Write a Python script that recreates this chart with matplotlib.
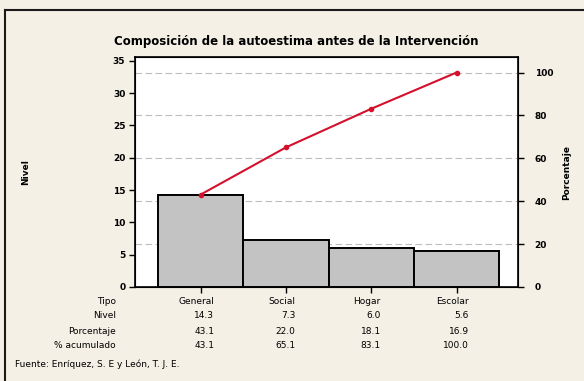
import matplotlib
matplotlib.use("Agg")
import matplotlib.pyplot as plt
from matplotlib.lines import Line2D
from matplotlib.transforms import blended_transform_factory

# Pareto data
categorias = ["General", "Social", "Hogar", "Escolar"]
nivel = [14.3, 7.3, 6.0, 5.6]
porcentaje = [43.1, 22.0, 18.1, 16.9]
acumulado = [43.1, 65.1, 83.1, 100.0]
nivel_ticks = [0, 5, 10, 15, 20, 25, 30, 35]
pct_ticks = [0, 20, 40, 60, 80, 100]
filas = ["Tipo", "Nivel", "Porcentaje", "% acumulado"]

W, H = 584, 381
bg = "#f4f0e6"
fig = plt.figure(figsize=(W / 100, H / 100), dpi=100, facecolor=bg)
plt.rcParams["font.family"] = ["DejaVu Sans"]

ax = fig.add_axes([135 / W, 1 - 287 / H, (518 - 135) / W, (287 - 57) / H])
ax.set_facecolor("white")
ax_w = 518 - 135

x = list(range(len(categorias)))
total = sum(nivel)
ymax = 35.6

# percentage gridlines, placed on the level axis so they sit behind the bars
for t in pct_ticks[1:]:
    ax.axhline(t * total / 100, color="#bdbdbd", linestyle=(0, (6, 3)),
               linewidth=0.8, zorder=1)

ax.bar(x, nivel, width=1.0, color="#c3c3c3", edgecolor="black", linewidth=1.4, zorder=3)
ax.set_xlim(-0.77, 3.72)
ax.set_ylim(0, ymax)
ax.set_yticks(nivel_ticks)
ax.set_xticks(x)
ax.set_xticklabels([])
ax.tick_params(axis="both", direction="out", length=4, width=1, labelsize=6.5, pad=3)
for lab in ax.get_yticklabels():
    lab.set_fontweight("bold")
for s in ax.spines.values():
    s.set_linewidth(1.2)

ax2 = ax.twinx()
ax2.set_ylim(0, ymax / total * 100)
ax2.set_yticks(pct_ticks)
ax2.tick_params(axis="y", direction="out", length=4, width=1, labelsize=6.5, pad=8)
for lab in ax2.get_yticklabels():
    lab.set_fontweight("bold")
ax2.plot(x, acumulado, color="#d4102c", linewidth=1.5, marker="o", markersize=3, zorder=5)

ax.set_ylabel("Nivel", fontsize=6.5, fontweight="bold")
ax.yaxis.set_label_coords(-(135 - 30) / ax_w, 0.5)
ax2.set_ylabel("Porcentaje", fontsize=6.5, fontweight="bold")
ax2.yaxis.set_label_coords((562 - 135) / ax_w, 0.5)

fig.text(296 / W, 1 - 41 / H, "Composición de la autoestima antes de la Intervención",
         ha="center", va="center", fontsize=8.5, fontweight="bold")

# Table under the chart
tr = blended_transform_factory(ax.transData, fig.transFigure)
row_y = [302, 315, 331, 346]
for lab, yy in zip(filas, row_y):
    fig.text(116 / W, 1 - yy / H, lab, ha="right", va="center", fontsize=6.5)

fig.canvas.draw()
renderer = fig.canvas.get_renderer()
inv = ax.transData.inverted()
for i, cat in enumerate(categorias):
    t = ax.text(i - 0.05, 1 - row_y[0] / H, cat, transform=tr, ha="center", va="center",
                fontsize=6.5)
    bb = t.get_window_extent(renderer=renderer)
    xr = inv.transform((bb.x1, 0))[0]
    vals = [f"{nivel[i]:.1f}", f"{porcentaje[i]:.1f}", f"{acumulado[i]:.1f}"]
    for v, yy in zip(vals, row_y[1:]):
        ax.text(xr, 1 - yy / H, v, transform=tr, ha="right", va="center", fontsize=6.5)

fig.text(15 / W, 1 - 364 / H, "Fuente: Enríquez, S. E y León, T. J. E.",
         ha="left", va="center", fontsize=6.5)

# Outer frame edges
fig.add_artist(Line2D([5 / W, 5 / W], [0, 1 - 10 / H], transform=fig.transFigure,
                      color="#1a1a1a", linewidth=1.5))
fig.add_artist(Line2D([5 / W, 1], [1 - 10 / H, 1 - 10 / H], transform=fig.transFigure,
                      color="#1a1a1a", linewidth=1.5))

fig.savefig("out.png", dpi=100, facecolor=bg)
